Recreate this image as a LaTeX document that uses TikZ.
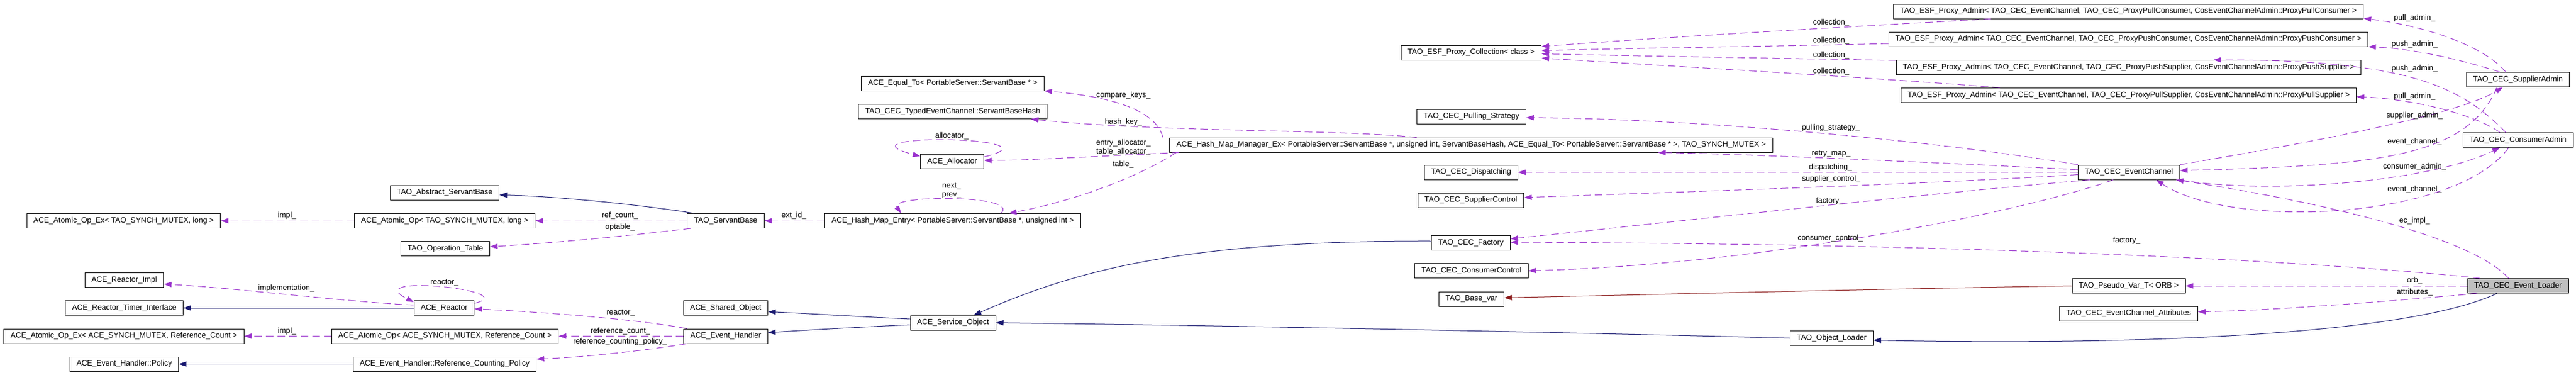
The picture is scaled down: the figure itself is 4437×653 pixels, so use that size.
\documentclass[tikz,border=0pt]{standalone}
\usepackage{fontspec}
\setmainfont{Liberation Sans}
\usetikzlibrary{arrows.meta}

\definecolor{inhcolor}{HTML}{191970}
\definecolor{usecolor}{HTML}{9A32CD}
\definecolor{tplcolor}{HTML}{8B1A1A}
\newcommand{\doxfont}{\fontsize{13.2}{15}\selectfont}

\tikzset{
  classbox/.style={draw=black, line width=1pt, fill=white, font=\doxfont,
    minimum height=25pt, inner xsep=11.5pt, inner ysep=0pt},
  curbox/.style={classbox, fill=black!25},
  edgelabel/.style={font=\doxfont, inner sep=0pt, align=center},
  inhline/.style={draw=inhcolor, line width=1pt, -{Triangle[length=13pt,width=9pt]}},
  tplline/.style={draw=tplcolor, line width=1pt, -{Triangle[length=13pt,width=9pt]}},
  useline/.style={draw=usecolor, line width=1pt, dash pattern=on 13pt off 7pt,
    -{Triangle[length=13pt,width=9pt]}}
}

\begin{document}
\begin{tikzpicture}[x=1pt, y=-1pt]
\useasboundingbox[fill=white] (0,0) rectangle (4437,653);

% ACE atomic ops, reactor, handler policies
\node[classbox] (atomicExL) at (213, 380) {ACE\_Atomic\_Op\_Ex< TAO\_SYNCH\_MUTEX, long >};
\node[classbox] (reactorImpl) at (214, 482) {ACE\_Reactor\_Impl};
\node[classbox] (timerIface) at (214, 530) {ACE\_Reactor\_Timer\_Interface};
\node[classbox] (atomicExR) at (213.5, 578.5) {ACE\_Atomic\_Op\_Ex< ACE\_SYNCH\_MUTEX, Reference\_Count >};
\node[classbox] (policy) at (214, 626.5) {ACE\_Event\_Handler::Policy};

\node[classbox] (abstractSB) at (766, 331.5) {TAO\_Abstract\_ServantBase};
\node[classbox] (atomicL) at (766, 380) {ACE\_Atomic\_Op< TAO\_SYNCH\_MUTEX, long >};
\node[classbox] (opTable) at (767, 428) {TAO\_Operation\_Table};
\node[classbox] (reactor) at (765, 530) {ACE\_Reactor};
\node[classbox] (atomicR) at (766.5, 578.5) {ACE\_Atomic\_Op< ACE\_SYNCH\_MUTEX, Reference\_Count >};
\node[classbox] (refPolicy) at (766, 626.5) {ACE\_Event\_Handler::Reference\_Counting\_Policy};

\node[classbox] (servantBase) at (1250, 380) {TAO\_ServantBase};
\node[classbox] (sharedObj) at (1250, 530) {ACE\_Shared\_Object};
\node[classbox] (eventHandler) at (1250, 578.5) {ACE\_Event\_Handler};

% Hash map helpers
\node[classbox] (equalTo) at (1641, 143.5) {ACE\_Equal\_To< PortableServer::ServantBase * >};
\node[classbox] (baseHash) at (1641, 192) {TAO\_CEC\_TypedEventChannel::ServantBaseHash};
\node[classbox] (allocator) at (1640, 278) {ACE\_Allocator};
\node[classbox] (hashEntry) at (1641, 380) {ACE\_Hash\_Map\_Entry< PortableServer::ServantBase *, unsigned int >};
\node[classbox] (serviceObj) at (1641.5, 555.5) {ACE\_Service\_Object};

% Event channel members
\node[classbox] (proxyColl) at (2534, 90.5) {TAO\_ESF\_Proxy\_Collection< class >};
\node[classbox] (pulling) at (2534.5, 200.5) {TAO\_CEC\_Pulling\_Strategy};
\node[classbox] (hashMgr) at (2534, 249.5) {ACE\_Hash\_Map\_Manager\_Ex< PortableServer::ServantBase *, unsigned int, ServantBaseHash, ACE\_Equal\_To< PortableServer::ServantBase * >, TAO\_SYNCH\_MUTEX >};
\node[classbox] (dispatching) at (2534, 296.5) {TAO\_CEC\_Dispatching};
\node[classbox] (supplierCtl) at (2533.5, 344.5) {TAO\_CEC\_SupplierControl};
\node[classbox] (factory) at (2533.5, 418) {TAO\_CEC\_Factory};
\node[classbox] (consumerCtl) at (2534.5, 466) {TAO\_CEC\_ConsumerControl};
\node[classbox] (baseVar) at (2534.5, 514.5) {TAO\_Base\_var};
\node[classbox] (objLoader) at (3155, 582) {TAO\_Object\_Loader};

% Proxy admins
\node[classbox] (adminPullCons) at (3666, 19.5) {TAO\_ESF\_Proxy\_Admin< TAO\_CEC\_EventChannel, TAO\_CEC\_ProxyPullConsumer, CosEventChannelAdmin::ProxyPullConsumer >};
\node[classbox] (adminPushCons) at (3666, 67.5) {TAO\_ESF\_Proxy\_Admin< TAO\_CEC\_EventChannel, TAO\_CEC\_ProxyPushConsumer, CosEventChannelAdmin::ProxyPushConsumer >};
\node[classbox] (adminPushSup) at (3666.5, 116) {TAO\_ESF\_Proxy\_Admin< TAO\_CEC\_EventChannel, TAO\_CEC\_ProxyPushSupplier, CosEventChannelAdmin::ProxyPushSupplier >};
\node[classbox] (adminPullSup) at (3666.5, 164) {TAO\_ESF\_Proxy\_Admin< TAO\_CEC\_EventChannel, TAO\_CEC\_ProxyPullSupplier, CosEventChannelAdmin::ProxyPullSupplier >};
\node[classbox] (eventChannel) at (3667, 296.5) {TAO\_CEC\_EventChannel};
\node[classbox] (pseudoVar) at (3666.5, 492) {TAO\_Pseudo\_Var\_T< ORB >};
\node[classbox] (ecAttrs) at (3666.5, 539.5) {TAO\_CEC\_EventChannel\_Attributes};

% Right column
\node[classbox] (supplierAdmin) at (4337, 137) {TAO\_CEC\_SupplierAdmin};
\node[classbox] (consumerAdmin) at (4337, 241) {TAO\_CEC\_ConsumerAdmin};
\node[curbox] (eventLoader) at (4337, 492) {TAO\_CEC\_Event\_Loader};

% Inheritance
\draw[inhline] ([xshift=12pt]servantBase.north west) .. controls (1100,352) and (960,338) .. ([yshift=-4pt]abstractSB.east);
\draw[inhline] (reactor) -- (timerIface);
\draw[inhline] (refPolicy) -- (policy);
\draw[inhline] ([yshift=6.5pt]serviceObj.west) .. controls (1480,545) and (1380,539) .. ([yshift=-6.5pt]sharedObj.east);
\draw[inhline] ([yshift=-3.5pt]serviceObj.west) .. controls (1480,563) and (1390,568) .. ([yshift=6pt]eventHandler.east);
\draw[inhline] ([yshift=3pt]factory.west) .. controls (2050,414) and (1860,462) .. ([xshift=35.5pt]serviceObj.north);
\draw[inhline] (objLoader.west) .. controls (2700,572) and (2100,560) .. (serviceObj.east);
\draw[inhline] ([xshift=-36pt]eventLoader.south) .. controls (4150,575) and (3700,595) .. ([yshift=-3.5pt]objLoader.east);

% Template instance
\draw[tplline] (pseudoVar.west) .. controls (3200,498) and (2800,508) .. ([yshift=2pt]baseVar.east);

% Usage, left part
\draw[useline] (atomicL) -- (atomicExL);
\node[edgelabel] (lblImplL) at (494.5, 371.5) {impl\_};
\draw[useline] (servantBase) -- (atomicL);
\node[edgelabel] (lblRefCount) at (1068, 371.5) {ref\_count\_};
\draw[useline] ([xshift=-60pt]servantBase.south) .. controls (1100,404) and (960,418) .. ([yshift=3.5pt]opTable.east);
\node[edgelabel] (lblOptable) at (1068, 391.5) {optable\_};
\draw[useline] (hashEntry) -- (servantBase);
\node[edgelabel] (lblExtId) at (1367.5, 371.5) {ext\_id\_};
\draw[useline] ([xshift=83pt]hashEntry.north) .. controls (1760,335) and (1530,335) .. ([xshift=-89pt]hashEntry.north);
\node[edgelabel] (lblNextPrev) at (1639, 328) {next\_\\prev\_};
\draw[useline] ([yshift=8pt]reactor.east) .. controls (905,500) and (615,470) .. ([yshift=10pt]reactor.west);
\node[edgelabel] (lblReactorSelf) at (765.5, 486.5) {reactor\_};
\draw[useline] ([yshift=5pt]reactor.west) .. controls (600,520) and (400,495) .. ([yshift=-7pt]reactorImpl.east);
\node[edgelabel] (lblImplementation) at (493, 496.5) {implementation\_};
\draw[useline] ([xshift=-67pt]eventHandler.north) .. controls (1100,550) and (950,538) .. ([yshift=-1.5pt]reactor.east);
\node[edgelabel] (lblReactor) at (1069, 539) {reactor\_};
\draw[useline] (eventHandler) -- (atomicR);
\node[edgelabel] (lblRefCountB) at (1068.5, 570.5) {reference\_count\_};
\draw[useline] ([xshift=-67pt]eventHandler.south) .. controls (1100,605) and (1000,615) .. ([yshift=8.5pt]refPolicy.east);
\node[edgelabel] (lblRefPolicy) at (1068, 588.5) {reference\_counting\_policy\_};
\draw[useline] (atomicR) -- (atomicExR);
\node[edgelabel] (lblImplR) at (494.5, 570.5) {impl\_};

% Usage, hash map
\draw[useline] ([xshift=-531pt]hashMgr.north) .. controls (1990,185) and (1900,165) .. (equalTo.south east);
\node[edgelabel] (lblCompare) at (1935, 164.5) {compare\_keys\_};
\draw[useline] ([xshift=-94pt]hashMgr.north) .. controls (2300,222) and (2000,228) .. ([xshift=-28pt]baseHash.south east);
\node[edgelabel] (lblHashKey) at (1935, 210.5) {hash\_key\_};
\draw[useline] ([xshift=-503pt]hashMgr.south) .. controls (1900,268) and (1780,276) .. ([yshift=2pt]allocator.east);
\node[edgelabel] (lblAllocators) at (1935, 254) {entry\_allocator\_\\table\_allocator\_};
\draw[useline] ([yshift=-5pt]allocator.north east) .. controls (1840,235) and (1430,228) .. ([yshift=-4pt]allocator.north west);
\node[edgelabel] (lblAllocator) at (1639.5, 234.5) {allocator\_};
\draw[useline] ([xshift=-508pt]hashMgr.south) .. controls (1985,290) and (1880,340) .. ([xshift=97pt]hashEntry.north);
\node[edgelabel] (lblTable) at (1934.5, 283.5) {table\_};

% Usage, event channel
\draw[useline] ([xshift=-237pt]adminPullCons.south) .. controls (3200,45) and (2850,65) .. ([yshift=10.5pt]proxyColl.east);
\node[edgelabel] (lblCollA) at (3154, 39.5) {collection\_};
\draw[useline] ([yshift=-7.5pt]adminPushCons.west) .. controls (3050,80) and (2850,82) .. ([yshift=3.5pt]proxyColl.east);
\node[edgelabel] (lblCollB) at (3154, 70.5) {collection\_};
\draw[useline] ([yshift=-1pt]adminPushSup.north west) .. controls (3050,100) and (2800,96) .. ([yshift=-2pt]proxyColl.east);
\node[edgelabel] (lblCollC) at (3154, 95.5) {collection\_};
\draw[useline] ([xshift=-222pt]adminPullSup.north) .. controls (3250,135) and (2850,112) .. ([yshift=-9.5pt]proxyColl.east);
\node[edgelabel] (lblCollD) at (3154, 123.5) {collection\_};
\draw[useline] (eventChannel.north west) .. controls (3350,245) and (2950,205) .. ([yshift=-2pt]pulling.east);
\node[edgelabel] (lblPulling) at (3153.5, 220.5) {pulling\_strategy\_};
\draw[useline] ([yshift=4.5pt]eventChannel.west) .. controls (3300,278) and (3000,265) .. ([xshift=322pt]hashMgr.south);
\node[edgelabel] (lblRetry) at (3154, 265) {retry\_map\_};
\draw[useline] (eventChannel) -- (dispatching);
\node[edgelabel] (lblDispatching) at (3153, 288.5) {dispatching\_};
\draw[useline] ([yshift=-4pt]eventChannel.west) .. controls (3300,318) and (2900,330) .. ([yshift=4.5pt]supplierCtl.east);
\node[edgelabel] (lblSupplierCtl) at (3154, 308.5) {supplier\_control\_};
\draw[useline] ([xshift=-67pt]eventChannel.south) .. controls (3350,330) and (2900,380) .. ([yshift=7pt]factory.east);
\node[edgelabel] (lblFactoryA) at (3151.5, 346.5) {factory\_};
\draw[useline] ([xshift=-27pt]eventChannel.south) .. controls (3500,360) and (3050,455) .. (consumerCtl.east);
\node[edgelabel] (lblConsumerCtl) at (3152.5, 410.5) {consumer\_control\_};
\draw[useline] ([xshift=-65pt]eventLoader.north) .. controls (4050,455) and (3500,420) .. ([yshift=1pt]factory.east);
\node[edgelabel] (lblFactoryB) at (3663, 414.5) {factory\_};

% Usage, admins and loader
\draw[useline] ([xshift=-21pt]supplierAdmin.north) .. controls (4280,80) and (4180,45) .. ([yshift=1pt]adminPullCons.south east);
\node[edgelabel] (lblPullAdminA) at (4159, 31) {pull\_admin\_};
\draw[useline] ([xshift=-31pt]supplierAdmin.north) .. controls (4230,100) and (4150,83) .. (adminPushCons.south east);
\node[edgelabel] (lblPushAdminA) at (4159, 76.5) {push\_admin\_};
\draw[useline] ([xshift=-21pt]consumerAdmin.north) .. controls (4240,150) and (4150,103) .. ([xshift=146pt]adminPushSup.north);
\node[edgelabel] (lblPushAdminB) at (4159, 118.5) {push\_admin\_};
\draw[useline] ([xshift=-31pt]consumerAdmin.north) .. controls (4260,195) and (4150,170) .. ([yshift=-2.5pt]adminPullSup.east);
\node[edgelabel] (lblPullAdminB) at (4159, 166.5) {pull\_admin\_};
\draw[useline] (eventChannel.north east) .. controls (3950,250) and (4230,200) .. ([xshift=-26pt]supplierAdmin.south);
\node[edgelabel] (lblSupplierAdmin) at (4159, 199.5) {supplier\_admin\_};
\draw[useline] ([xshift=-36pt]supplierAdmin.south) .. controls (4250,270) and (4100,285) .. ([yshift=3pt]eventChannel.east);
\node[edgelabel] (lblChannelA) at (4159, 244.5) {event\_channel\_};
\draw[useline] (eventChannel.south east) .. controls (3900,335) and (4180,315) .. ([xshift=-31pt]consumerAdmin.south);
\node[edgelabel] (lblConsumerAdmin) at (4159, 287.5) {consumer\_admin\_};
\draw[useline] ([xshift=-16pt]consumerAdmin.south) .. controls (4230,380) and (3840,395) .. ([xshift=47pt]eventChannel.south);
\node[edgelabel] (lblChannelB) at (4159, 326.5) {event\_channel\_};
\draw[useline] ([xshift=-16pt]eventLoader.north) .. controls (4250,400) and (3950,340) .. ([xshift=81pt]eventChannel.south);
\node[edgelabel] (lblEcImpl) at (4159, 380) {ec\_impl\_};
\draw[useline] (eventLoader) -- (pseudoVar);
\node[edgelabel] (lblOrb) at (4159, 483.5) {orb\_};
\draw[useline] ([xshift=-70pt]eventLoader.south) .. controls (4100,520) and (3900,535) .. ([yshift=3pt]ecAttrs.east);
\node[edgelabel] (lblAttributes) at (4159, 503.5) {attributes\_};

\end{tikzpicture}
\end{document}
